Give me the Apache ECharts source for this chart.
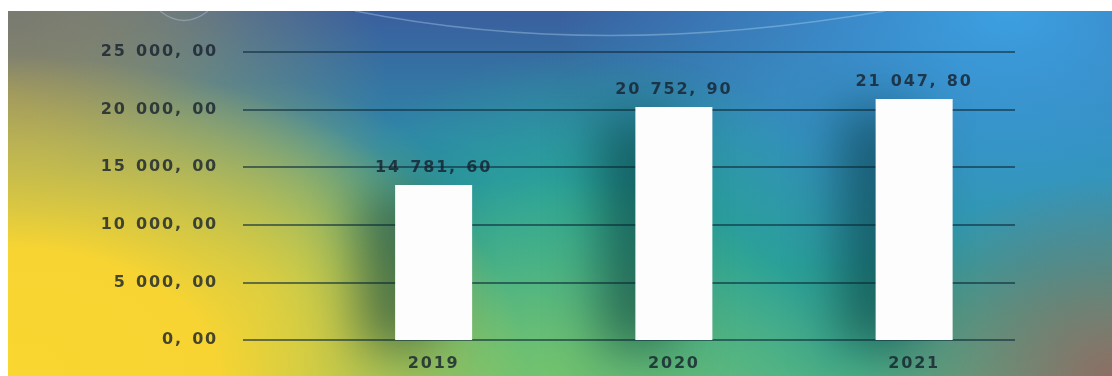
<!DOCTYPE html>
<html>
<head>
<meta charset="utf-8">
<script src="https://cdn.jsdelivr.net/npm/echarts@6/dist/echarts.min.js"></script>
<style>
  html, body { margin: 0; padding: 0; background: #ffffff; }
  #wrap { position: relative; width: 1112px; height: 376px; overflow: hidden; background: #ffffff; }
  #bg {
    position: absolute; left: 8px; top: 11px; right: 0; bottom: 0;
    background:
      radial-gradient(ellipse 520px 320px at 0px 365px, rgba(250,214,48,1) 0%, rgba(247,212,50,1) 40%, rgba(240,210,60,0) 100%),
      radial-gradient(ellipse 240px 140px at 0px 0px, rgba(122,122,112,1), rgba(122,122,112,0)),
      radial-gradient(ellipse 380px 300px at 0px 80px, rgba(160,155,95,0.95), rgba(160,155,95,0)),
      radial-gradient(ellipse 230px 210px at 250px 280px, rgba(180,200,85,0.8), rgba(180,200,85,0)),
      radial-gradient(ellipse 280px 200px at 540px 365px, rgba(115,195,110,1), rgba(115,195,110,0)),
      radial-gradient(ellipse 250px 200px at 1104px 365px, rgba(140,110,100,1), rgba(140,110,100,0)),
      radial-gradient(ellipse 250px 170px at 580px 210px, rgba(40,170,150,0.85), rgba(40,170,150,0)),
      radial-gradient(ellipse 450px 300px at 1000px 0px, rgba(60,160,225,1), rgba(60,160,225,0)),
      linear-gradient(to bottom, #3a5f9e 0%, #2f86a8 35%, #2a9e98 70%, #4bb088 100%);
  }
  #chart { position: absolute; left: 0; top: 0; width: 1112px; height: 376px; }
</style>
</head>
<body>
<div id="wrap">
  <div id="bg"></div>
  <div id="chart"></div>
</div>
<script>
const categories = ['2019', '2020', '2021'];
const barValues = [13450, 20230, 20920];
const valueLabels = ['14 781, 60', '20 752, 90', '21 047, 80'];
const yTickLabels = ['0, 00', '5 000, 00', '10 000, 00', '15 000, 00', '20 000, 00', '25 000, 00'];
const yMax = 25000;
const yStep = 5000;

const textColor = 'rgba(22,32,45,0.8)';
const font = 'DejaVu Sans';

// widen the lettering slightly, like the reference's spaced-out type
(function () {
  const proto = CanvasRenderingContext2D.prototype;
  const origFill = proto.fillText;
  const origMeasure = proto.measureText;
  proto.fillText = function () {
    if ('letterSpacing' in this) { this.letterSpacing = '1.8px'; }
    if ('wordSpacing' in this) { this.wordSpacing = '2px'; }
    return origFill.apply(this, arguments);
  };
  proto.measureText = function () {
    if ('letterSpacing' in this) { this.letterSpacing = '1.8px'; }
    if ('wordSpacing' in this) { this.wordSpacing = '2px'; }
    return origMeasure.apply(this, arguments);
  };
})();

const chart = echarts.init(document.getElementById('chart'), null, { renderer: 'canvas' });
chart.setOption({
  backgroundColor: 'transparent',
  animation: false,
  grid: [
    { left: 243, right: 97, top: 52, bottom: 36 },
    { left: 313.5, right: 77.75, top: 52, bottom: 36 }
  ],
  xAxis: [
    { gridIndex: 0, type: 'value', show: false, min: 0, max: 1 },
    {
      gridIndex: 1, type: 'category', data: categories,
      axisLine: { show: false }, axisTick: { show: false },
      axisLabel: { color: textColor, fontFamily: font, fontWeight: 'bold', fontSize: 16, margin: 15 }
    }
  ],
  yAxis: [
    {
      gridIndex: 0, type: 'value', min: 0, max: yMax, interval: yStep,
      axisLine: { show: false }, axisTick: { show: false },
      axisLabel: {
        color: textColor, fontFamily: font, fontWeight: 'bold', fontSize: 16, margin: 25,
        formatter: v => yTickLabels[Math.round(v / yStep)]
      },
      splitLine: { show: true, lineStyle: { color: 'rgba(15,45,60,0.6)', width: 2 } }
    },
    {
      gridIndex: 1, type: 'value', min: 0, max: yMax, interval: yStep, show: false,
      splitLine: { show: false }
    }
  ],
  graphic: [
    { type: 'bezierCurve', shape: { x1: 355, y1: 11, cpx1: 600, cpy1: 60, x2: 885, y2: 11 },
      style: { stroke: 'rgba(190,225,250,0.35)', lineWidth: 1.5, fill: null }, silent: true, z: -1 },
    { type: 'bezierCurve', shape: { x1: 160, y1: 11, cpx1: 184, cpy1: 30, x2: 208, y2: 11 },
      style: { stroke: 'rgba(190,215,240,0.35)', lineWidth: 1.5, fill: null }, silent: true, z: -1 }
  ],
  series: [
    {
      type: 'bar', xAxisIndex: 1, yAxisIndex: 1,
      data: barValues, barWidth: 77,
      itemStyle: {
        color: '#fdfdfd',
        shadowColor: 'rgba(0,40,45,0.5)', shadowBlur: 50, shadowOffsetX: -36, shadowOffsetY: 10
      },
      label: {
        show: true, position: 'top', distance: 8,
        color: textColor, fontFamily: font, fontWeight: 'bold', fontSize: 16,
        formatter: p => valueLabels[p.dataIndex]
      }
    }
  ]
});
</script>
</body>
</html>
